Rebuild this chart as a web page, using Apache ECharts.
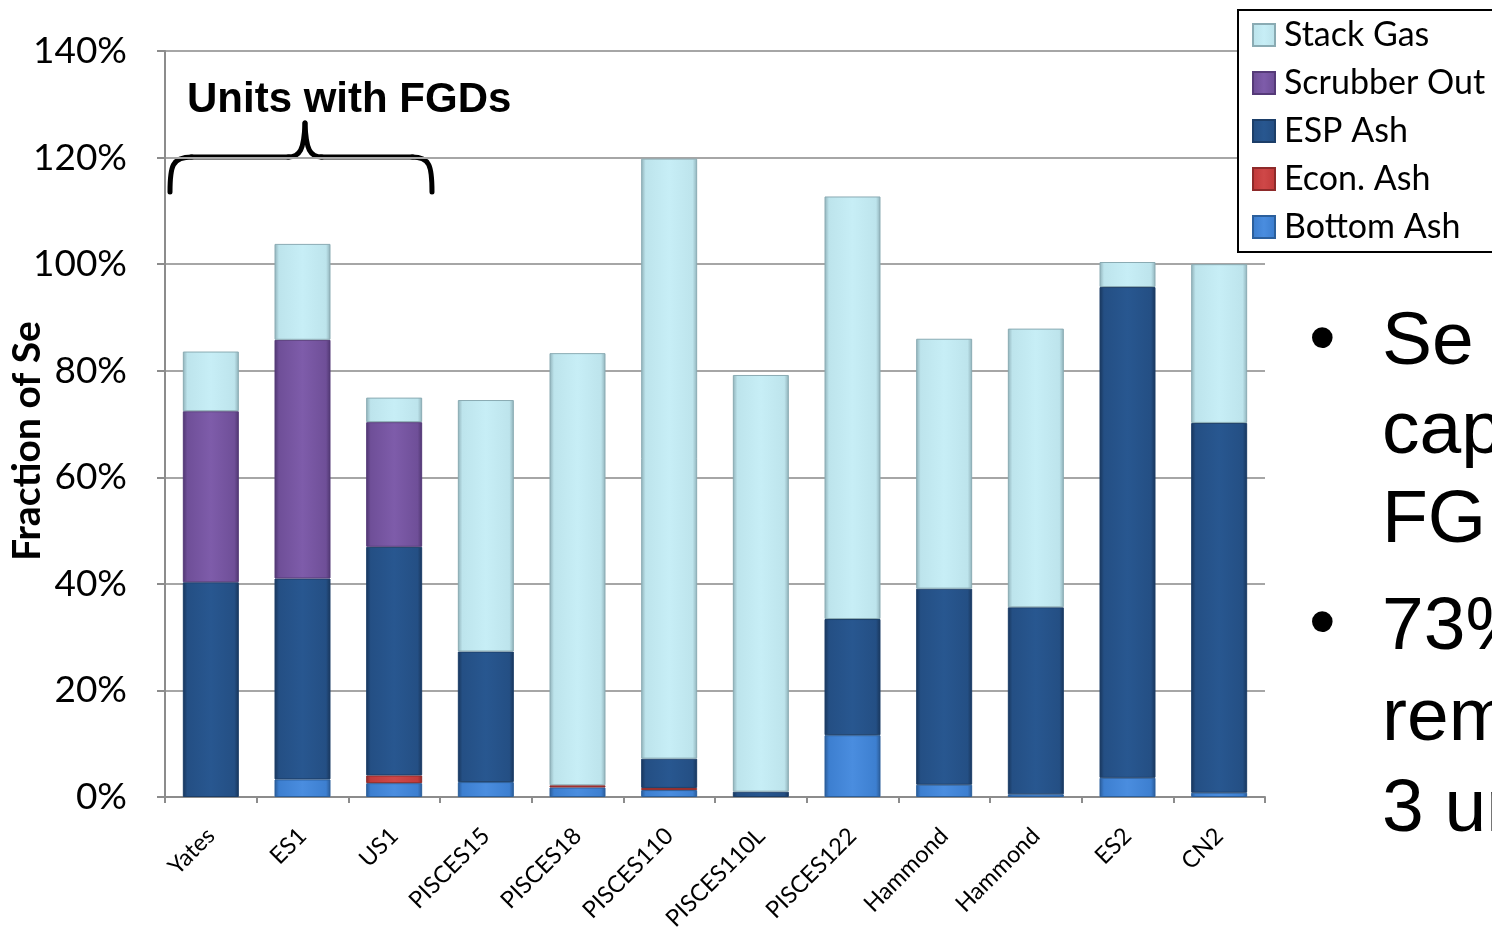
<!DOCTYPE html>
<html>
<head>
<meta charset="utf-8">
<script src="https://cdn.jsdelivr.net/npm/echarts@6/dist/echarts.min.js"></script>
<style>html,body{margin:0;padding:0;background:#fff;}#c{width:1492px;height:927px;}</style>
</head>
<body>
<div id="c"></div>
<script>
const categories = ['Yates','ES1','US1','PISCES15','PISCES18','PISCES110','PISCES110L','PISCES122','Hammond','Hammond','ES2','CN2'];
const bottomAsh  = [0,   3.3, 2.6,  2.8, 1.8, 1.3, 0,    11.6, 2.3, 0.5, 3.6, 0.8];
const econAsh    = [0,   0,   1.45, 0,   0.4, 0.4, 0,    0,    0,   0,   0,   0];
const espAsh     = [40.3,37.7,42.9, 24.5,0,   5.5, 1.0,  21.8, 36.8,35.1,92.1,69.4];
const scrubber   = [32.1,44.8,23.4, 0,   0,   0,   0,    0,    0,   0,   0,   0];
const stackGas   = [11.2,18.0,4.6,  47.2,81.1,112.6,78.2,79.3, 46.9,52.3,4.7, 29.8];
const yTicks = [0,20,40,60,80,100,120,140];

function grad(edge, base, hi){
  return {type:'linear',x:0,y:0,x2:1,y2:0,colorStops:[
    {offset:0,color:edge},{offset:0.08,color:base},{offset:0.5,color:hi},{offset:0.92,color:base},{offset:1,color:edge}]};
}
const styles = {
  'Bottom Ash': {c: grad('#2a5a96','#3d7fd0','#4a8ddf'), b:'#2b5f9c'},
  'Econ. Ash':  {c: grad('#8e2a2a','#c23b3b','#cf4848'), b:'#8e2a2a'},
  'ESP Ash':    {c: grad('#18355a','#244f84','#285790'), b:'#1c3e68'},
  'Scrubber Out':{c: grad('#4f3670','#6f4f98','#7e5caa'), b:'#553a78'},
  'Stack Gas':  {c: grad('#8fb0b8','#bde4ec','#c7eef6'), b:'#8aabb3'}
};
function mk(name, data){
  return {name:name,type:'bar',stack:'t',data:data.map(v => v === 0 ? null : v),barWidth:56,
    itemStyle:{color:styles[name].c,borderColor:styles[name].b,borderWidth:1}};
}
const bs = {fill:'none',stroke:'#000',lineWidth:5,lineCap:'round'};
function bz(x1,y1,c1x,c1y,c2x,c2y,x2,y2){
  return {type:'bezierCurve',shape:{x1:x1,y1:y1,cpx1:c1x,cpy1:c1y,cpx2:c2x,cpy2:c2y,x2:x2,y2:y2},style:bs};
}
function ln(x1,y1,x2,y2){
  return {type:'line',shape:{x1:x1,y1:y1,x2:x2,y2:y2},style:bs};
}
const chart = echarts.init(document.getElementById('c'));
chart.setOption({
  animation:false,
  backgroundColor:'#ffffff',
  grid:{left:165,right:227,top:51,bottom:130,containLabel:false,outerBoundsMode:'none'},
  legend:{
    orient:'vertical',left:1238,top:10,
    data:['Stack Gas','Scrubber Out','ESP Ash','Econ. Ash','Bottom Ash'],
    icon:'rect',
    itemWidth:22,itemHeight:22,itemGap:14,
    padding:[8,40,8,14],
    borderColor:'#000',borderWidth:2,backgroundColor:'#fff',
    textStyle:{fontFamily:'Lato',fontSize:34,color:'#000',lineHeight:34,padding:[0,0,0,4]}
  },
  xAxis:{
    type:'category',data:categories,
    axisLine:{lineStyle:{color:'#8c8c8c',width:2}},
    axisTick:{show:true,alignWithLabel:false,length:6,lineStyle:{color:'#8c8c8c',width:2}},
    axisLabel:{rotate:45,margin:35,fontFamily:'Lato',fontSize:23.5,color:'#000',interval:0}
  },
  yAxis:{
    type:'value',min:0,max:140,interval:20,
    axisLine:{show:true,lineStyle:{color:'#8c8c8c',width:2}},
    axisTick:{show:true,length:8,lineStyle:{color:'#8c8c8c',width:2}},
    splitLine:{lineStyle:{color:'#a6a6a6',width:2}},
    axisLabel:{formatter:'{value}%',fontFamily:'Lato',fontSize:37,color:'#000',margin:38}
  },
  series:[
    mk('Bottom Ash',bottomAsh),
    mk('Econ. Ash',econAsh),
    mk('ESP Ash',espAsh),
    mk('Scrubber Out',scrubber),
    mk('Stack Gas',stackGas)
  ],
  graphic:[
    {type:'text',x:27,y:441,rotation:Math.PI/2,style:{text:'Fraction of Se',fontFamily:'Lato',fontWeight:'bold',fontSize:39,fill:'#000',textAlign:'center',textVerticalAlign:'middle'}},
    {type:'text',x:187,y:79,style:{text:'Units with FGDs',fontFamily:'Liberation Sans',fontWeight:'bold',fontSize:42,fill:'#000'}},
    bz(170,192,170,166,172,157,192,157),
    ln(191,157,289,157),
    bz(288,157,300,157,304,150,305,123),
    bz(305,123,306,150,310,157,322,157),
    ln(321,157,413,157),
    bz(412,157,430,157,432,166,432,192),
    {type:'text',x:1309,y:304,style:{text:'•',fontFamily:'Liberation Sans',fontSize:76,fill:'#000'}},
    {type:'text',x:1382,y:299,style:{text:'Se is\ncaptured\nFGDs',fontFamily:'Liberation Sans',fontSize:75,lineHeight:89,fill:'#000'}},
    {type:'text',x:1309,y:588,style:{text:'•',fontFamily:'Liberation Sans',fontSize:76,fill:'#000'}},
    {type:'text',x:1382,y:583,style:{text:'73%\nremoval\n3 units',fontFamily:'Liberation Sans',fontSize:75,lineHeight:91,fill:'#000'}}
  ]
});
</script>
</body>
</html>
